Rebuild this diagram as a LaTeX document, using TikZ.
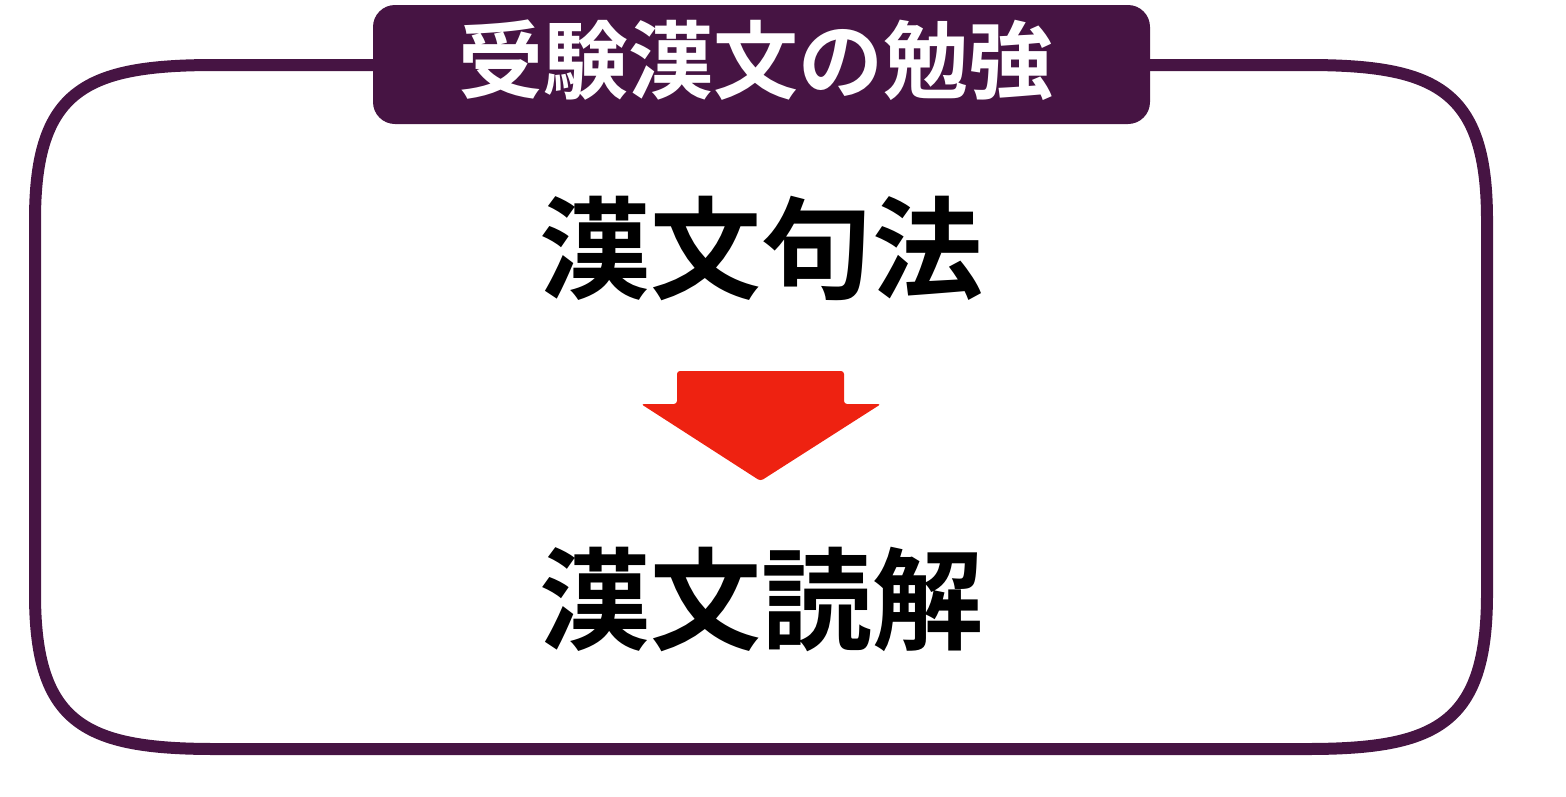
\documentclass[tikz,border=0pt]{standalone}
\usepackage{fontspec}
\newfontfamily\cjk{Noto Sans CJK JP}[BoldFont={* Bold}]
\definecolor{framepurple}{HTML}{461443}
\definecolor{arrowred}{HTML}{EE2211}
\begin{document}
\begin{tikzpicture}[x=1pt,y=-1pt,
  frameline/.style={draw=framepurple,line width=12pt},
  tabbox/.style={fill=framepurple,rounded corners=22pt,minimum width=777pt,minimum height=119pt,inner sep=0pt},
  titletext/.style={inner sep=0pt,text=white,font=\cjk\bfseries\fontsize{85}{90}\selectfont},
  bigtext/.style={font=\cjk\bfseries\fontsize{111}{116}\selectfont,inner sep=0pt,text=black},
  arrowshape/.style={fill=arrowred,rounded corners=3pt}]
\useasboundingbox (0,0) rectangle (1566,796);
% frame
\draw[frameline]
  (215,65) -- (1307,65)
  .. controls (1437,65) and (1487,90) .. (1487,220)
  -- (1487,594)
  .. controls (1487,724) and (1437,749) .. (1307,749)
  -- (215,749)
  .. controls (85,749) and (35,724) .. (35,594)
  -- (35,220)
  .. controls (35,90) and (85,65) .. (215,65) -- cycle;
% title tab
\node[tabbox] (tab) at (761.5,64.5) {};
\node[titletext] (title) at (756,60) {受験漢文の勉強};
% texts
\node[bigtext] (upper) at (761,249) {漢文句法};
\node[bigtext] (lower) at (761,599) {漢文読解};
% arrow
\fill[arrowshape] (677,404) -- (677,371) -- (844,371) -- (844,404) -- (881,404) -- (760.5,481) -- (641,404) -- cycle;
\end{tikzpicture}
\end{document}
